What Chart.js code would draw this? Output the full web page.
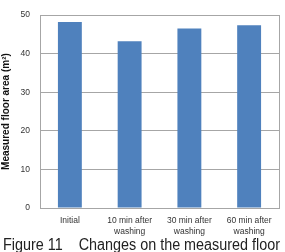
<!DOCTYPE html>
<html>
<head>
<meta charset="utf-8">
<script src="https://cdn.jsdelivr.net/npm/chart.js@4"></script>
<style>
  html, body { margin: 0; padding: 0; background: #fff; }
  #wrap { width: 285px; height: 252px; position: relative; overflow: hidden; }
</style>
</head>
<body>
<div id="wrap"><canvas id="chart" width="285" height="252"></canvas></div>
<script>
// chart data
const categories = [['Initial'], ['10 min after', 'washing'], ['30 min after', 'washing'], ['60 min after', 'washing']];
const floorArea = [48.2, 43.2, 46.5, 47.4];
const yTicks = [0, 10, 20, 30, 40, 50];
const yTitle = 'Measured floor area (m\u00B2)';
const caption = 'Figure 11    Changes on the measured floor';

// frame around plot + caption text
const framePlugin = {
    id: 'frame',
    afterDraw(chart) {
        const { ctx, chartArea: a } = chart;
        ctx.save();
        ctx.strokeStyle = '#a6a6a6';
        ctx.lineWidth = 1;
        ctx.strokeRect(Math.round(a.left) + 0.5, Math.round(a.top) + 0.5,
            Math.round(a.right - a.left), Math.round(a.bottom - a.top));
        ctx.fillStyle = '#222';
        ctx.font = '16px "Liberation Sans", Arial, sans-serif';
        ctx.textBaseline = 'alphabetic';
        ctx.textAlign = 'left';
        ctx.fillText(caption, 3, 250, 277);
        ctx.restore();
    }
};

const tickFont = { family: '"Liberation Sans", Arial, sans-serif', size: 8.5, lineHeight: 1.2 };

const ctx = document.getElementById('chart').getContext('2d');
new Chart(ctx, {
    type: 'bar',
    data: {
        labels: categories,
        datasets: [{
            data: floorArea,
            backgroundColor: '#4f81bd',
            borderWidth: 0,
            categoryPercentage: 1,
            barPercentage: 0.4
        }]
    },
    options: {
        responsive: false,
        animation: false,
        layout: { padding: { left: 0, top: 13, right: 6, bottom: 0 } },
        plugins: {
            legend: { display: false },
            tooltip: { enabled: false }
        },
        scales: {
            x: {
                grid: { display: false },
                border: { display: false },
                ticks: {
                    color: '#333',
                    font: tickFont,
                    padding: 0,
                    maxRotation: 0
                },
                afterFit(scale) { scale.height = 44; }
            },
            y: {
                min: 0,
                max: 50,
                afterBuildTicks(scale) { scale.ticks = yTicks.map(v => ({ value: v })); },
                grid: { color: '#a6a6a6', drawTicks: false },
                border: { display: false },
                ticks: {
                    color: '#333',
                    font: tickFont,
                    padding: 10
                },
                title: {
                    display: true,
                    text: yTitle,
                    color: '#111',
                    font: { family: '"Liberation Sans", Arial, sans-serif', size: 10, weight: 'bold' },
                    padding: { top: 0, bottom: 0 }
                },
                afterFit(scale) { scale.width = 40; }
            }
        }
    },
    plugins: [framePlugin]
});
</script>
</body>
</html>
